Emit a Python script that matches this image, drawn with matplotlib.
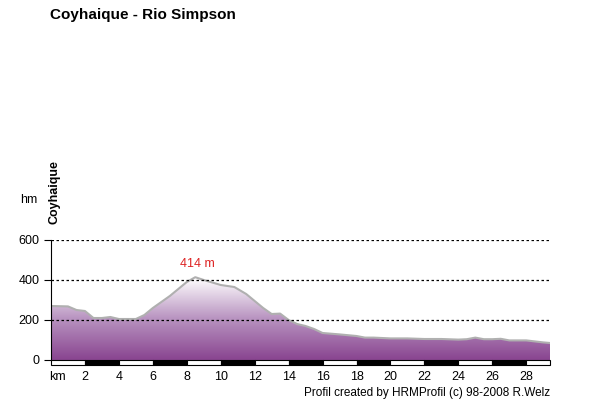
import numpy as np
import matplotlib
matplotlib.use("Agg")
import matplotlib.pyplot as plt
from matplotlib.colors import LinearSegmentedColormap
from matplotlib.patches import Rectangle

plt.rcParams['font.family'] = ['Liberation Sans', 'DejaVu Sans']

km = [0, 1, 1.5, 2, 2.5, 3, 3.5, 4, 5, 5.5, 6, 7, 8, 8.5, 9, 10, 10.8, 11.5, 12.5, 13, 13.5, 14, 14.5, 15, 15.5, 16, 17, 18, 18.5, 19, 20, 21, 22, 23, 24, 24.5, 25, 25.5, 26, 26.5, 27, 28, 29, 29.4]
elev = [270, 268, 250, 245, 210, 210, 215, 205, 205, 225, 260, 320, 390, 414, 400, 375, 365, 330, 260, 230, 232, 200, 180, 170, 155, 135, 128, 120, 112, 112, 108, 108, 105, 105, 102, 104, 112, 104, 104, 106, 98, 98, 88, 85]
xticks = [2, 4, 6, 8, 10, 12, 14, 16, 18, 20, 22, 24, 26, 28]
yticks = [0, 200, 400, 600]

fig = plt.figure(figsize=(6, 4), dpi=100)
ax = fig.add_axes([51/600, 1-365/400, (550-51)/600, 125/400])
xmax = km[-1]
ax.set_xlim(0, xmax)
ax.set_ylim(-25, 600)

cmap = LinearSegmentedColormap.from_list("p", ["#894590", "#b893c0", "#ffffff"])
grad = np.linspace(0, 1, 256).reshape(-1, 1) * (600/414)
grad = np.clip(grad, 0, 1)
im = ax.imshow(grad, extent=[0, xmax, 0, 600], origin="lower", aspect="auto", cmap=cmap, zorder=1)
poly = ax.fill_between(km, 0, elev, color="none")
path = poly.get_paths()[0]
im.set_clip_path(path, transform=ax.transData)
ax.plot(km, elev, color="#b0b0b0", lw=1.5, zorder=2)

for y in [200, 400, 600]:
    ax.axhline(y, color="black", ls=(0, (2, 2)), lw=0.9, zorder=3)
for i in range(0, 15):
    x0 = i * 2
    ax.add_patch(Rectangle((x0, -25), min(2, xmax - x0), 25, facecolor="black" if i % 2 else "white",
                           edgecolor="black", lw=0.8, zorder=4, clip_on=False))

for s in ["top", "right", "bottom"]:
    ax.spines[s].set_visible(False)
ax.spines["left"].set_bounds(0, 600)
ax.set_yticks(yticks)
ax.set_xticks(xticks)
ax.tick_params(axis="x", length=0, labelsize=9, pad=4)
ax.tick_params(axis="y", length=5, labelsize=9)

ax.text(8.6, 450, "414 m", color="#dd2222", fontsize=9, ha="center", va="bottom")
fig.text(50/600, 1-15/400, "Coyhaique - Rio Simpson", fontsize=11, fontweight="bold", va="center")
fig.text(55/600, 1-192/400, "Coyhaique", fontsize=9, fontweight="bold", rotation=90, ha="center", va="center")
fig.text(20/600, 1-200/400, "hm", fontsize=9, va="center")
fig.text(49/600, 1-377/400, "km", fontsize=9, va="center")
fig.text(550/600, 1-393/400, "Profil created by HRMProfil (c) 98-2008 R.Welz", fontsize=8.5, ha="right", va="center")
fig.savefig("out.png", dpi=100)
